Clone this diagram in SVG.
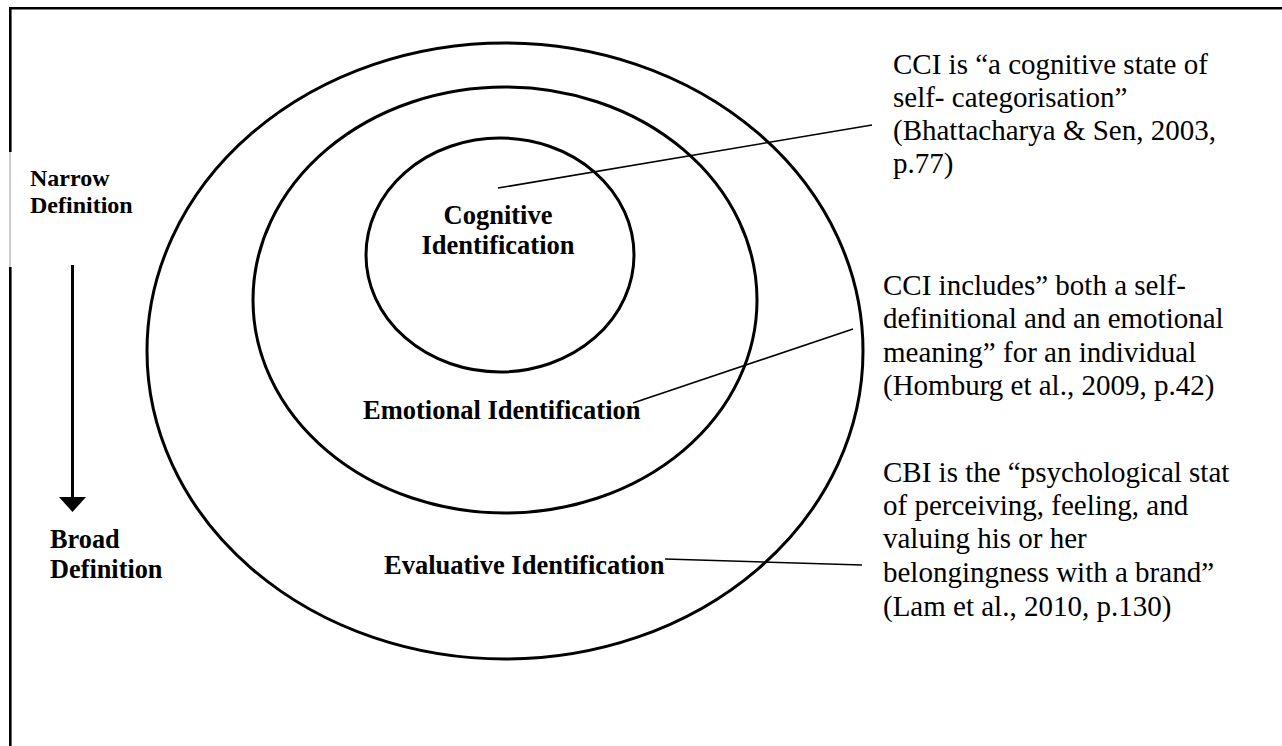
<svg xmlns="http://www.w3.org/2000/svg" width="1282" height="746" viewBox="0 0 1282 746">
<style>
.ring{fill:none;stroke:#000;stroke-width:3}
.lbl{font-family:"Liberation Serif","Times New Roman",serif;font-weight:bold;fill:#000}
.note{font-family:"Liberation Serif","Times New Roman",serif;font-size:29px;fill:#000}
.conn{stroke:#000;stroke-width:1.6;fill:none}
</style>
<rect width="1282" height="746" fill="#fff"/>
<g id="frame">
<line x1="9" y1="8.2" x2="1282" y2="8.2" stroke="#000" stroke-width="2.6"/>
<line x1="10.3" y1="7" x2="10.3" y2="152" stroke="#000" stroke-width="2.6"/>
<line x1="10" y1="152" x2="10" y2="267" stroke="#999" stroke-width="1"/>
<line x1="10.3" y1="267" x2="10.3" y2="746" stroke="#000" stroke-width="2.6"/>
</g>
<g id="scale">
<text class="lbl" font-size="24" x="30" y="186">Narrow</text>
<text class="lbl" font-size="24" x="30" y="213">Definition</text>
<line x1="72.5" y1="265" x2="72.5" y2="498" stroke="#000" stroke-width="3"/>
<polygon points="59,497 86,497 72.5,512" fill="#000"/>
<text class="lbl" font-size="26.3" x="50" y="548">Broad</text>
<text class="lbl" font-size="26.3" x="50" y="578">Definition</text>
</g>
<g id="evaluative">
<ellipse class="ring" cx="505" cy="351" rx="358" ry="308"/>
<text class="lbl" font-size="26.5" x="384" y="574">Evaluative Identification</text>
</g>
<g id="emotional">
<ellipse class="ring" cx="505" cy="300" rx="252" ry="213"/>
<text class="lbl" font-size="26.5" x="363" y="419">Emotional Identification</text>
</g>
<g id="cognitive">
<ellipse class="ring" cx="500" cy="255" rx="134" ry="117"/>
<text class="lbl" font-size="26.5" x="498" y="224" text-anchor="middle">Cognitive</text>
<text class="lbl" font-size="26.5" x="498" y="254" text-anchor="middle">Identification</text>
</g>
<g id="connectors">
<line class="conn" x1="498" y1="188" x2="872" y2="125"/>
<line class="conn" x1="633" y1="403" x2="853" y2="329"/>
<line class="conn" x1="665" y1="559" x2="862" y2="565"/>
</g>
<g id="note-cognitive">
<text class="note" x="893" y="74">CCI is “a cognitive state of</text>
<text class="note" x="893" y="107">self- categorisation”</text>
<text class="note" x="893" y="140">(Bhattacharya &amp; Sen, 2003,</text>
<text class="note" x="893" y="173">p.77)</text>
</g>
<g id="note-emotional">
<text class="note" x="883" y="295">CCI includes” both a self-</text>
<text class="note" x="883" y="328">definitional and an emotional</text>
<text class="note" x="883" y="362">meaning” for an individual</text>
<text class="note" x="883" y="395">(Homburg et al., 2009, p.42)</text>
</g>
<g id="note-evaluative">
<text class="note" x="883" y="482">CBI is the “psychological stat</text>
<text class="note" x="883" y="515">of perceiving, feeling, and</text>
<text class="note" x="883" y="548">valuing his or her</text>
<text class="note" x="883" y="582">belongingness with a brand”</text>
<text class="note" x="883" y="616">(Lam et al., 2010, p.130)</text>
</g>
</svg>
